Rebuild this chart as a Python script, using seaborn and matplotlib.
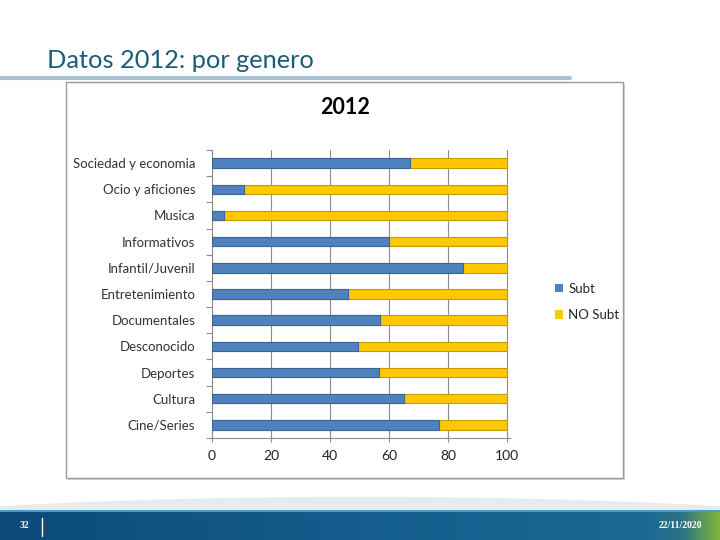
import matplotlib
matplotlib.use('Agg')
import matplotlib.pyplot as plt
import seaborn as sns
import numpy as np
import pandas as pd
from matplotlib.patches import Rectangle, Ellipse
from matplotlib.lines import Line2D

sns.set_style("white")
plt.rcParams['font.family'] = ['Lato', 'DejaVu Sans']

# datos (porcentaje)
generos = ["Sociedad y economia", "Ocio y aficiones", "Musica", "Informativos",
           "Infantil/Juvenil", "Entretenimiento", "Documentales", "Desconocido",
           "Deportes", "Cultura", "Cine/Series"]
subt = [67, 11, 4, 60, 85, 46, 57, 49.5, 56.5, 65, 77]
no_subt = [33, 89, 96, 40, 15, 54, 43, 50.5, 43.5, 35, 23]
ticks_x = [0, 20, 40, 60, 80, 100]

df = pd.DataFrame({"genero": generos, "Subt": subt, "NO Subt": no_subt})
df["total"] = df["Subt"] + df["NO Subt"]

azul = "#4f81bd"
amarillo = "#ffc800"

fig = plt.figure(figsize=(7.2, 5.4), dpi=100)
fig.patch.set_facecolor("white")

# fondo: curva clara sobre la banda inferior
fig.patches.append(Ellipse((0.5, 0.0), 1.6, 0.16, transform=fig.transFigure,
                           facecolor="#e4ecf2", edgecolor="none", zorder=-3))

# banda inferior con degradado
band = fig.add_axes([0, 0, 1, 30 / 540], zorder=2)
grad = np.linspace(0, 1, 512)
cmap = matplotlib.colors.LinearSegmentedColormap.from_list(
    "banda", [(0, "#0c4a78"), (0.5, "#145d8c"), (0.9, "#1b6994"),
              (0.95, "#2b7384"), (1, "#7fb43e")],
)
band.imshow(np.vstack([grad, grad]), aspect="auto", cmap=cmap, extent=[0, 1, 0, 1])
band.plot([0, 1], [0.97, 0.97], color="#4a9bc6", lw=1.5)
band.plot([42 / 720, 42 / 720], [0.15, 0.75], color="white", lw=1)
band.text(20 / 720, 0.5, "32", color="white", fontsize=7, fontweight="bold",
          va="center", ha="left", family=["Liberation Serif", "DejaVu Serif"])
band.text(702 / 720, 0.5, "22/11/2020", color="white", fontsize=7, fontweight="bold",
          va="center", ha="right", family=["Liberation Serif", "DejaVu Serif"])
band.set_xlim(0, 1)
band.set_ylim(0, 1)
band.axis("off")

# titulo de la diapositiva
fig.text(47 / 720, 1 - 60 / 540, "Datos 2012: por genero", color="#1b5c78",
         fontsize=18.3, va="center", ha="left")
fig.add_artist(Line2D([0, 570 / 720], [1 - 78 / 540, 1 - 78 / 540],
                      transform=fig.transFigure, color="#aac3d2", lw=3))

# recuadro del grafico
fig.patches.append(Rectangle((68 / 720, 1 - 480 / 540), 557 / 720, 396 / 540,
                             transform=fig.transFigure, facecolor="#d8d8d8",
                             edgecolor="none", zorder=-2))
fig.patches.append(Rectangle((66 / 720, 1 - 478 / 540), 557 / 720, 396 / 540,
                             transform=fig.transFigure, facecolor="white",
                             edgecolor="#9a9a9a", lw=1, zorder=-1))
fig.text(345 / 720, 1 - 108 / 540, "2012", fontsize=15.5, fontweight="bold",
         ha="center", va="center", color="black")

ax = fig.add_axes([212 / 720, 1 - 438 / 540, 298 / 720, 288 / 540], zorder=3)
ax.set_facecolor("none")
sns.barplot(data=df, x="total", y="genero", color=amarillo, orient="h",
            saturation=1, width=0.36, edgecolor="#c99a00", linewidth=0.8,
            ax=ax, zorder=3)
sns.barplot(data=df, x="Subt", y="genero", color=azul, orient="h",
            saturation=1, width=0.36, edgecolor="#3a6596", linewidth=0.8,
            ax=ax, zorder=4)

ax.set_xlim(0, 101)
ax.set_ylim(len(generos) - 0.5, -0.5)
ax.set_xticks(ticks_x)
ax.set_xticklabels([str(t) for t in ticks_x], fontsize=10, color="#222222")
ax.tick_params(axis="y", labelsize=9.5, length=0, pad=12, labelcolor="#333333")
ax.set_yticks(np.arange(-0.5, len(generos)), minor=True)
ax.tick_params(axis="y", which="minor", left=True, length=4, width=0.8,
               color="#8c8c8c", direction="out")
ax.tick_params(axis="x", bottom=True, length=3, width=0.8, color="#8c8c8c",
               direction="out", pad=6)
ax.set_xlabel("")
ax.set_ylabel("")
ax.grid(axis="x", color="#8c8c8c", lw=0.8, zorder=0)
ax.set_axisbelow(True)
for s in ["top", "right"]:
    ax.spines[s].set_visible(False)
for s in ["left", "bottom"]:
    ax.spines[s].set_color("#8c8c8c")
    ax.spines[s].set_linewidth(0.8)

handles = [Rectangle((0, 0), 1, 1, facecolor=azul, edgecolor="none"),
           Rectangle((0, 0), 1, 1, facecolor=amarillo, edgecolor="none")]
fig.legend(handles, ["Subt", "NO Subt"], loc="center left",
           bbox_to_anchor=(543 / 720, 1 - 302 / 540), frameon=False,
           fontsize=9.5, handlelength=0.6, handleheight=0.6, handletextpad=0.4,
           labelspacing=1.1)

fig.savefig("out.png", dpi=100)
